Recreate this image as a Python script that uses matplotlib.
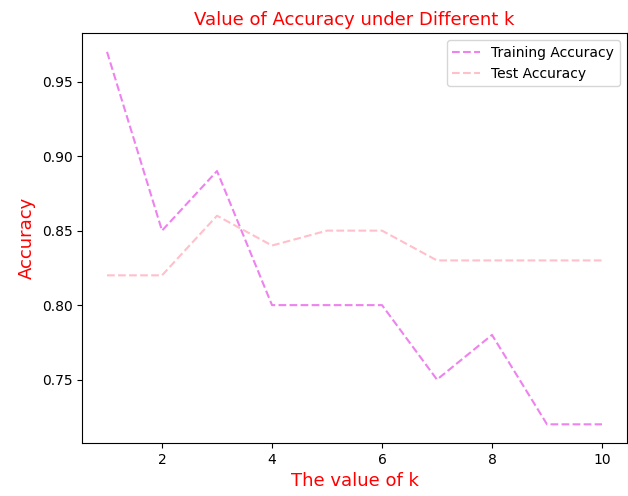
import matplotlib

matplotlib.use("Agg")

import matplotlib.pyplot as plt

k_values = [1, 2, 3, 4, 5, 6, 7, 8, 9, 10]
train_accuracy = [0.97, 0.85, 0.89, 0.80, 0.80, 0.80, 0.75, 0.78, 0.72, 0.72]
test_accuracy = [0.82, 0.82, 0.86, 0.84, 0.85, 0.85, 0.83, 0.83, 0.83, 0.83]

fig, ax = plt.subplots(figsize=(6.28, 4.96), dpi=100)
fig.subplots_adjust(left=0.131, right=0.998, top=0.933, bottom=0.107)

ax.plot(k_values, train_accuracy, color="violet", linestyle="--", label="Training Accuracy")
ax.plot(k_values, test_accuracy, color="pink", linestyle="--", label="Test Accuracy")

ax.set_title("Value of Accuracy under Different k", color="red", fontsize=13)
ax.set_xlabel("The value of k", color="red", fontsize=13)
ax.set_ylabel("Accuracy", color="red", fontsize=13)
ax.legend(loc="upper right")

fig.savefig("out.png", dpi=100)
